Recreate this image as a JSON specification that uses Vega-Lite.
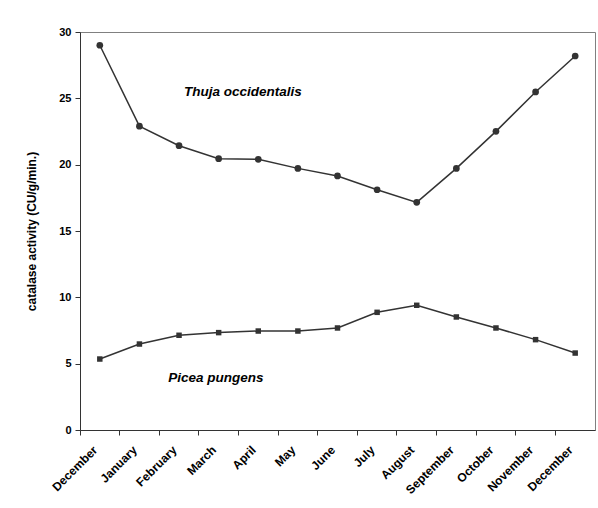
{
  "$schema": "https://vega.github.io/schema/vega-lite/v6.json",
  "width": 515,
  "height": 398,
  "autosize": {"type": "none"},
  "padding": {"left": 80, "top": 32, "right": 3, "bottom": 78},
  "background": "white",
  "config": {
    "view": {"stroke": "#808080", "strokeWidth": 1},
    "font": "Liberation Sans",
    "axis": {"labelFont": "Liberation Sans", "titleFont": "Liberation Sans", "labelFontWeight": "bold", "titleFontWeight": "bold", "labelColor": "black", "titleColor": "black", "domainColor": "#333333", "tickColor": "#333333", "grid": false}
  },
  "datasets": {
    "activity": [
      {"month": "December 2001", "species": "Thuja occidentalis", "value": 29.0},
      {"month": "January 2002", "species": "Thuja occidentalis", "value": 22.9},
      {"month": "February 2002", "species": "Thuja occidentalis", "value": 21.43},
      {"month": "March 2002", "species": "Thuja occidentalis", "value": 20.45},
      {"month": "April 2002", "species": "Thuja occidentalis", "value": 20.4},
      {"month": "May 2002", "species": "Thuja occidentalis", "value": 19.72},
      {"month": "June 2002", "species": "Thuja occidentalis", "value": 19.15},
      {"month": "July 2002", "species": "Thuja occidentalis", "value": 18.11},
      {"month": "August 2002", "species": "Thuja occidentalis", "value": 17.16},
      {"month": "September 2002", "species": "Thuja occidentalis", "value": 19.72},
      {"month": "October 2002", "species": "Thuja occidentalis", "value": 22.51},
      {"month": "November 2002", "species": "Thuja occidentalis", "value": 25.48},
      {"month": "December 2002", "species": "Thuja occidentalis", "value": 28.19},
      {"month": "December 2001", "species": "Picea pungens", "value": 5.35},
      {"month": "January 2002", "species": "Picea pungens", "value": 6.48},
      {"month": "February 2002", "species": "Picea pungens", "value": 7.14},
      {"month": "March 2002", "species": "Picea pungens", "value": 7.34},
      {"month": "April 2002", "species": "Picea pungens", "value": 7.46},
      {"month": "May 2002", "species": "Picea pungens", "value": 7.46},
      {"month": "June 2002", "species": "Picea pungens", "value": 7.69},
      {"month": "July 2002", "species": "Picea pungens", "value": 8.87},
      {"month": "August 2002", "species": "Picea pungens", "value": 9.4},
      {"month": "September 2002", "species": "Picea pungens", "value": 8.52},
      {"month": "October 2002", "species": "Picea pungens", "value": 7.69},
      {"month": "November 2002", "species": "Picea pungens", "value": 6.81},
      {"month": "December 2002", "species": "Picea pungens", "value": 5.8}
    ],
    "labels": [
      {"month": "March 2002", "value": 25.5, "text": "Thuja occidentalis", "shift": 44},
      {"month": "March 2002", "value": 3.9, "text": "Picea pungens", "shift": 17}
    ]
  },
  "encoding": {
    "x": {
      "field": "month", "type": "ordinal", "sort": null,
      "scale": {"type": "band", "paddingInner": 0, "paddingOuter": 0,
        "domain": ["December 2001", "January 2002", "February 2002", "March 2002", "April 2002", "May 2002", "June 2002", "July 2002", "August 2002", "September 2002", "October 2002", "November 2002", "December 2002"]},
      "axis": {"title": null, "bandPosition": 0, "labelOffset": -8, "labelAngle": -45, "labelAlign": "right", "labelBaseline": "top", "labelFontSize": 12, "labelPadding": 9, "tickSize": 5, "labelExpr": "split(datum.label, ' ')[0]"}
    },
    "y": {
      "field": "value", "type": "quantitative",
      "scale": {"domain": [0, 30], "nice": false},
      "axis": {"title": "catalase activity (CU/g/min.)", "values": [0, 5, 10, 15, 20, 25, 30], "labelFontSize": 11, "titleFontSize": 12, "tickSize": 5, "labelPadding": 4, "titlePadding": 20}
    }
  },
  "layer": [
    {
      "data": {"name": "activity"},
      "mark": {"type": "line", "color": "#333333", "strokeWidth": 1.5},
      "encoding": {"detail": {"field": "species"}}
    },
    {
      "data": {"name": "activity"},
      "mark": {"type": "point", "filled": true, "color": "#333333", "opacity": 1},
      "encoding": {
        "shape": {"field": "species", "type": "nominal", "scale": {"domain": ["Thuja occidentalis", "Picea pungens"], "range": ["circle", "square"]}, "legend": null},
        "size": {"field": "species", "type": "nominal", "scale": {"domain": ["Thuja occidentalis", "Picea pungens"], "range": [45, 30]}, "legend": null}
      }
    },
    {
      "data": {"name": "labels"},
      "mark": {"type": "text", "font": "Liberation Sans", "fontWeight": "bold", "fontStyle": "italic", "fontSize": 13.5, "color": "black", "align": "center", "baseline": "middle"},
      "encoding": {
        "text": {"field": "text"},
        "xOffset": {"field": "shift", "type": "quantitative", "scale": {"domain": [0, 1], "range": [0, 1]}}
      }
    }
  ]
}
